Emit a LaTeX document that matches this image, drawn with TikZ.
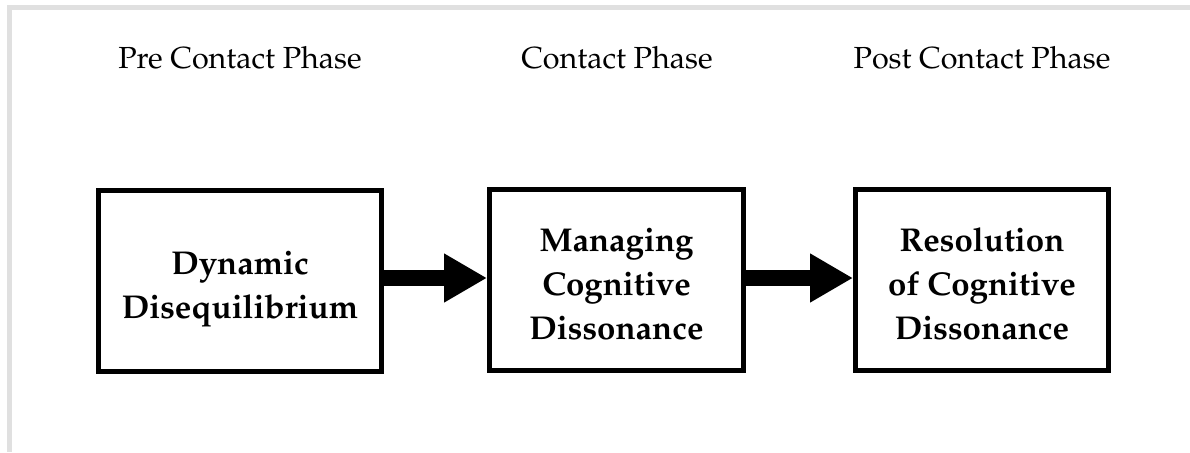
\documentclass[tikz,border=0pt]{standalone}
\usepackage[T1]{fontenc}
\usepackage{mathpazo}
\usetikzlibrary{arrows.meta}
\definecolor{framegray}{HTML}{E0E0E0}
\tikzset{
  phase/.style={font=\fontsize{30.5}{36}\selectfont, anchor=base},
  stagebox/.style={draw, line width=5pt, inner sep=0pt, minimum height=181pt},
  stagetext/.style={align=center, inner sep=0pt, font=\bfseries\fontsize{33}{44}\selectfont},
  flowarrow/.style={line width=16pt, -{Triangle[length=43pt,width=46pt]}}
}
\begin{document}
\begin{tikzpicture}[x=1pt,y=1pt]
\useasboundingbox (0,0) rectangle (1190,-452);
\fill[framegray] (7,-5) rectangle (1190,-10);
\fill[framegray] (7,-5) rectangle (12,-452);
\node[phase] (p1) at (240,-68) {Pre Contact Phase};
\node[phase] (p2) at (617,-68) {Contact Phase};
\node[phase] (p3) at (982,-68) {Post Contact Phase};
\node[stagebox, minimum width=283pt] (b1) at (240,-281) {};
\node[stagebox, minimum width=254pt] (b2) at (616.5,-280) {};
\node[stagebox, minimum width=253pt] (b3) at (982,-280) {};
\node[stagetext, yshift=-8pt] (t1) at (b1.center) {Dynamic\\Disequilibrium};
\node[stagetext, yshift=-4pt] (t2) at (b2.center) {Managing\\Cognitive\\Dissonance};
\node[stagetext, yshift=-4pt] (t3) at (b3.center) {Resolution\\of Cognitive\\Dissonance};
\draw[flowarrow] (b1.east |- 0,-278) -- (b2.west |- 0,-278);
\draw[flowarrow] (b2.east |- 0,-278) -- (b3.west |- 0,-278);
\end{tikzpicture}
\end{document}
